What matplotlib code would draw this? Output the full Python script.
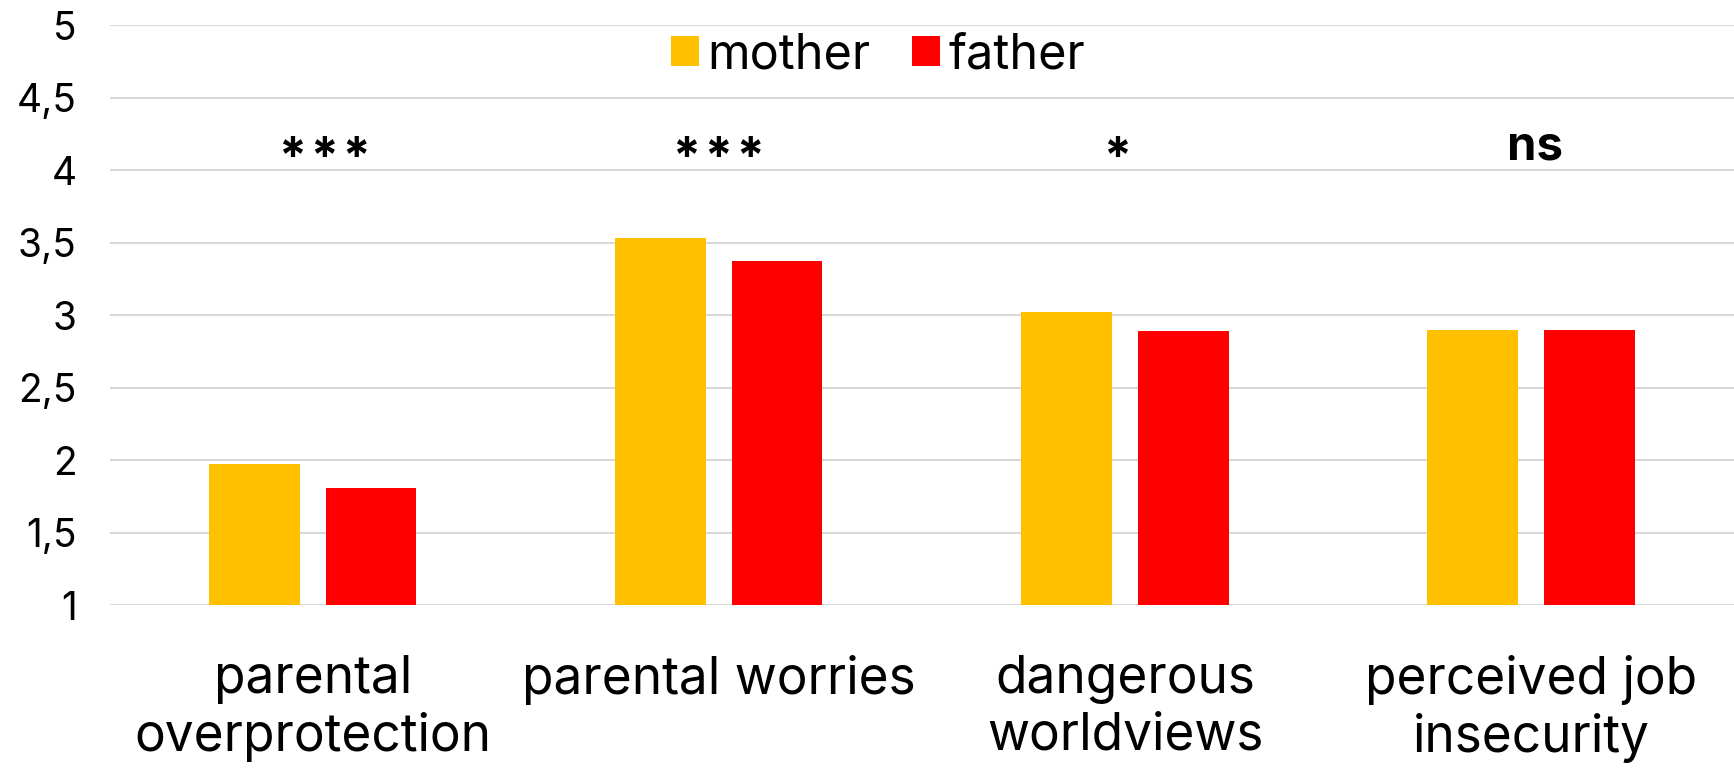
import matplotlib
matplotlib.use("Agg")
import matplotlib.pyplot as plt
from matplotlib.ticker import FuncFormatter
import numpy as np

plt.rcParams["font.family"] = ["Inter", "DejaVu Sans"]

# ---------- data ----------
categories = ["parental\noverprotection", "parental worries",
              "dangerous\nworldviews", "perceived job\ninsecurity"]
mother = [1.97, 3.53, 3.02, 2.90]
father = [1.81, 3.37, 2.89, 2.90]
significance = ["***", "***", "*", "ns"]

kleur_moeder = "#FFC000"
kleur_vader = "#FF0000"

# ---------- figure ----------
fig = plt.figure(figsize=(17.34, 7.68), dpi=100)
ax = fig.add_axes([0.0634, 0.2122, 0.9366, 0.7552])

x = np.arange(len(categories))
breedte = 0.224
offset = 0.143

ax.bar(x - offset, mother, breedte, bottom=0, color=kleur_moeder, label="mother", zorder=2)
ax.bar(x + offset, father, breedte, bottom=0, color=kleur_vader, label="father", zorder=2)

ax.set_ylim(1, 5)
ax.set_xlim(-0.5, len(categories) - 0.5)
ax.set_yticks(np.arange(1, 5.01, 0.5))
ax.yaxis.set_major_formatter(FuncFormatter(lambda v, p: f"{v:g}".replace(".", ",")))
ax.grid(axis="y", color="#D9D9D9", linewidth=1.5, zorder=0)
ax.set_axisbelow(True)
for s in ax.spines.values():
    s.set_visible(False)

ax.tick_params(axis="y", length=0, labelsize=28, pad=24)
ax.tick_params(axis="x", length=0, labelsize=37, pad=36)
ax.set_xticks(x)
ax.set_xticklabels(categories, linespacing=1.2)

# significantie boven de groepen
sig_dx = [0.03, 0.0, -0.02, 0.01]
for i, s in enumerate(significance):
    if s == "ns":
        ax.text(x[i] + sig_dx[i], 4.076, s, ha="center", va="baseline",
                fontsize=34, fontweight="bold")
    else:
        ax.text(x[i] + sig_dx[i], 4.07, "\u200a".join(s), ha="center", va="center",
                fontsize=36, fontweight="bold", family=["Inter", "DejaVu Sans"])

leg = ax.legend(loc="center", bbox_to_anchor=(0.473, 0.948), ncol=2, frameon=False,
                fontsize=35, handlelength=0.58, handleheight=0.58,
                handletextpad=0.18, columnspacing=0.85)

fig.savefig("out.png", dpi=100)
